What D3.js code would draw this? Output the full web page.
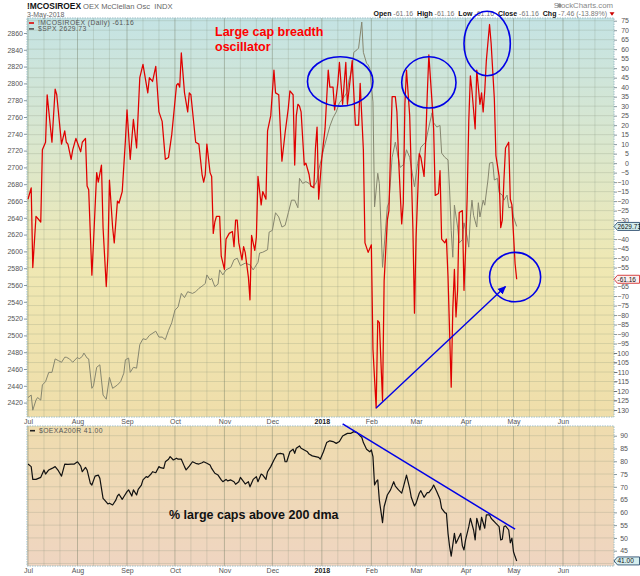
<!DOCTYPE html>
<html><head><meta charset="utf-8">
<script src="https://cdn.jsdelivr.net/npm/d3@7"></script>
<style>
html,body{margin:0;padding:0;background:#fff;}
svg{display:block;font-family:"Liberation Sans",Arial,sans-serif;}
</style></head><body>
<svg id="c" width="640" height="576"></svg>
<script>
// ---------- DATA ----------
const oscDates = [
"2017-07-01","2017-07-03","2017-07-04","2017-07-06","2017-07-09","2017-07-10","2017-07-12","2017-07-13","2017-07-16","2017-07-18","2017-07-19","2017-07-22","2017-07-24","2017-07-25","2017-07-26","2017-07-28","2017-07-29","2017-07-31",
"2017-08-03","2017-08-04","2017-08-06","2017-08-07","2017-08-08","2017-08-10","2017-08-11","2017-08-13","2017-08-14","2017-08-16","2017-08-17","2017-08-19","2017-08-20","2017-08-21","2017-08-23","2017-08-24","2017-08-26","2017-08-27","2017-08-29","2017-08-31",
"2017-09-01","2017-09-03","2017-09-05","2017-09-07","2017-09-09","2017-09-11","2017-09-14","2017-09-15","2017-09-17","2017-09-19","2017-09-21","2017-09-23","2017-09-25","2017-09-27","2017-09-29",
"2017-10-02","2017-10-03","2017-10-04","2017-10-05","2017-10-07","2017-10-09","2017-10-10","2017-10-11","2017-10-14","2017-10-16","2017-10-18","2017-10-19","2017-10-20","2017-10-21","2017-10-23","2017-10-24","2017-10-25","2017-10-26","2017-10-27","2017-10-29","2017-10-30",
"2017-11-01","2017-11-02","2017-11-04","2017-11-06","2017-11-07","2017-11-08","2017-11-09","2017-11-10","2017-11-12","2017-11-13","2017-11-14","2017-11-16","2017-11-17","2017-11-18","2017-11-20","2017-11-21","2017-11-22","2017-11-24","2017-11-25","2017-11-27","2017-11-28","2017-11-30",
"2017-12-02","2017-12-03","2017-12-05","2017-12-07","2017-12-09","2017-12-11","2017-12-12","2017-12-14","2017-12-15","2017-12-16","2017-12-17","2017-12-18","2017-12-19","2017-12-21","2017-12-22","2017-12-24","2017-12-25","2017-12-27","2017-12-28","2017-12-29","2017-12-30",
"2018-01-01","2018-01-03","2018-01-05","2018-01-06","2018-01-08","2018-01-09","2018-01-11","2018-01-12","2018-01-14","2018-01-16","2018-01-17","2018-01-19","2018-01-20","2018-01-22","2018-01-24","2018-01-25","2018-01-27","2018-01-28","2018-01-30",
"2018-02-01","2018-02-02","2018-02-04","2018-02-05","2018-02-06","2018-02-08","2018-02-09","2018-02-11","2018-02-12","2018-02-14","2018-02-16","2018-02-17","2018-02-18","2018-02-20","2018-02-21","2018-02-22","2018-02-23","2018-02-25","2018-02-27","2018-02-28",
"2018-03-01","2018-03-03","2018-03-04","2018-03-06","2018-03-07","2018-03-08","2018-03-09","2018-03-11","2018-03-12","2018-03-13","2018-03-15","2018-03-16","2018-03-17","2018-03-19","2018-03-20","2018-03-21","2018-03-23","2018-03-24","2018-03-25","2018-03-26","2018-03-27","2018-03-28","2018-03-30","2018-03-31",
"2018-04-01","2018-04-02","2018-04-03","2018-04-04","2018-04-05","2018-04-07","2018-04-08","2018-04-10","2018-04-11","2018-04-12","2018-04-13","2018-04-14","2018-04-16","2018-04-17","2018-04-19","2018-04-20","2018-04-22","2018-04-23","2018-04-24","2018-04-25","2018-04-26","2018-04-28","2018-04-29","2018-04-30",
"2018-05-02","2018-05-03"];
const oscValues = [
-19,-13,-55,-28,-31,7,11,36,11,39,36,10,17,11,10,2,7,13,
6,11,13,-12,-14,-59,-42,-5,-10,-1,-34,-65,-49,-9,-34,-42,-20,-21,-15,12,
28,2,23,8,45,52,37,45,43,51,27,22,2,3,15,
41,42,40,58,37,27,37,36,11,10,-6,-10,-6,10,-5,-7,-37,-31,-28,-28,-49,
-56,-40,-37,-36,-44,-30,-30,-42,-51,-44,-47,-60,-72,-38,-46,-39,-7,-22,-15,-19,17,25,
49,37,36,1,16,29,38,36,-1,25,31,30,27,-1,0,-6,-12,-13,8,19,-19,
3,18,49,40,40,28,42,53,31,53,31,46,54,20,20,42,7,-42,-47,
-43,-98,-129,-83,-84,-125,-62,-30,-25,35,35,27,3,-32,-21,31,49,25,-34,-79,
-39,5,3,-7,11,36,57,32,18,-17,-16,-4,-40,-42,-40,-60,-118,-77,-56,-81,-67,-26,-25,-67,
-46,-18,22,46,38,18,49,31,37,27,38,54,73,63,34,4,-7,-34,-30,-9,8,11,-19,-22,
-53,-61.16];

const spxDates = [
"2017-07-01","2017-07-03","2017-07-04","2017-07-06","2017-07-07","2017-07-09","2017-07-10","2017-07-12","2017-07-14","2017-07-16","2017-07-18","2017-07-20","2017-07-22","2017-07-24","2017-07-25","2017-07-27","2017-07-29",
"2017-08-01","2017-08-02","2017-08-04","2017-08-05","2017-08-07","2017-08-08","2017-08-10","2017-08-11","2017-08-13","2017-08-15","2017-08-17","2017-08-19","2017-08-21","2017-08-23","2017-08-26","2017-08-28","2017-08-30","2017-08-31",
"2017-09-02","2017-09-03","2017-09-05","2017-09-07","2017-09-09","2017-09-11","2017-09-13","2017-09-15","2017-09-19","2017-09-21","2017-09-23","2017-09-25","2017-09-27","2017-09-29",
"2017-10-01","2017-10-03","2017-10-05","2017-10-07","2017-10-09","2017-10-12","2017-10-14","2017-10-16","2017-10-19","2017-10-20","2017-10-21","2017-10-23","2017-10-24","2017-10-26","2017-10-28","2017-10-29","2017-10-31",
"2017-11-02","2017-11-05","2017-11-07","2017-11-09","2017-11-11","2017-11-14","2017-11-17","2017-11-19","2017-11-20","2017-11-22","2017-11-23","2017-11-25","2017-11-28","2017-11-29",
"2017-12-01","2017-12-03","2017-12-05","2017-12-07","2017-12-09","2017-12-11","2017-12-13","2017-12-15","2017-12-17","2017-12-18","2017-12-20","2017-12-22","2017-12-24","2017-12-26","2017-12-28","2017-12-29","2017-12-30",
"2018-01-01","2018-01-02","2018-01-04","2018-01-06","2018-01-08","2018-01-10","2018-01-12","2018-01-15","2018-01-17","2018-01-18","2018-01-20","2018-01-21","2018-01-23","2018-01-24","2018-01-26","2018-01-27","2018-01-29","2018-01-30","2018-01-31",
"2018-02-02","2018-02-03","2018-02-05","2018-02-06","2018-02-08","2018-02-11","2018-02-12","2018-02-14","2018-02-16","2018-02-19","2018-02-21","2018-02-23","2018-02-25","2018-02-28",
"2018-03-02","2018-03-04","2018-03-07","2018-03-09","2018-03-11","2018-03-12","2018-03-14","2018-03-16","2018-03-17","2018-03-19","2018-03-21","2018-03-22","2018-03-23","2018-03-24","2018-03-25","2018-03-27","2018-03-28","2018-03-30","2018-03-31",
"2018-04-02","2018-04-03","2018-04-04","2018-04-05","2018-04-06","2018-04-08","2018-04-09","2018-04-10","2018-04-12","2018-04-13","2018-04-15","2018-04-16","2018-04-18","2018-04-19","2018-04-21","2018-04-22","2018-04-24","2018-04-25","2018-04-27","2018-04-28","2018-04-30",
"2018-05-01","2018-05-03"];
const spxValues = [
2426,2429,2411,2423,2426,2423,2441,2445,2456,2456,2472,2470,2468,2474,2474,2472,2468,
2474,2472,2475,2479,2473,2472,2437,2440,2462,2465,2429,2424,2450,2437,2441,2445,2455,2471,
2473,2456,2462,2461,2489,2496,2495,2500,2505,2498,2498,2495,2506,2515,
2530,2534,2550,2545,2552,2550,2552,2556,2560,2562,2572,2566,2568,2558,2561,2578,2572,
2578,2581,2590,2592,2583,2586,2584,2578,2581,2587,2598,2599,2602,2623,
2625,2646,2641,2629,2631,2646,2661,2661,2652,2687,2681,2683,2681,2677,2680,2685,2697,
2712,2721,2735,2749,2759,2766,2777,2784,2790,2804,2818,2837,2840,2842,2873,2837,2824,2822,2818,
2778,2653,2693,2681,2581,2653,2658,2712,2730,2700,2703,2721,2712,2677,
2705,2724,2730,2748,2765,2753,2748,2750,2717,2712,2709,2673,2625,2593,2655,2629,2610,2614,2634,
2617,2605,2641,2661,2643,2629,2658,2641,2661,2655,2685,2705,2706,2685,2687,2670,2667,2661,2667,2652,2653,
2641,2629.73];

const pctDates = [
"2017-07-01","2017-07-03","2017-07-04","2017-07-06","2017-07-09","2017-07-11","2017-07-12","2017-07-14","2017-07-16","2017-07-18","2017-07-20","2017-07-22","2017-07-24","2017-07-26","2017-07-28","2017-07-30",
"2017-08-01","2017-08-03","2017-08-04","2017-08-06","2017-08-07","2017-08-09","2017-08-10","2017-08-12","2017-08-14","2017-08-15","2017-08-17","2017-08-18","2017-08-20","2017-08-21","2017-08-23","2017-08-25","2017-08-26","2017-08-27","2017-08-29","2017-08-30",
"2017-09-01","2017-09-02","2017-09-04","2017-09-05","2017-09-07","2017-09-08","2017-09-10","2017-09-11","2017-09-13","2017-09-14","2017-09-16","2017-09-17","2017-09-19","2017-09-21","2017-09-22","2017-09-24","2017-09-25","2017-09-27","2017-09-28","2017-09-30",
"2017-10-02","2017-10-03","2017-10-05","2017-10-07","2017-10-08","2017-10-10","2017-10-12","2017-10-14","2017-10-16","2017-10-18","2017-10-19","2017-10-21","2017-10-23","2017-10-24","2017-10-26","2017-10-28","2017-10-30","2017-10-31",
"2017-11-02","2017-11-03","2017-11-05","2017-11-07","2017-11-08","2017-11-10","2017-11-11","2017-11-13","2017-11-14","2017-11-16","2017-11-17","2017-11-19","2017-11-21","2017-11-22","2017-11-24","2017-11-25","2017-11-27","2017-11-28","2017-11-30",
"2017-12-02","2017-12-04","2017-12-06","2017-12-08","2017-12-09","2017-12-10","2017-12-12","2017-12-14","2017-12-15","2017-12-16","2017-12-18","2017-12-19","2017-12-21","2017-12-23","2017-12-24","2017-12-26","2017-12-28","2017-12-30","2017-12-31",
"2018-01-02","2018-01-04","2018-01-06","2018-01-08","2018-01-10","2018-01-12","2018-01-14","2018-01-17","2018-01-19","2018-01-21","2018-01-23","2018-01-25","2018-01-26","2018-01-27","2018-01-29","2018-01-31",
"2018-02-01","2018-02-02","2018-02-03","2018-02-04","2018-02-05","2018-02-06","2018-02-08","2018-02-09","2018-02-11","2018-02-13","2018-02-15","2018-02-16","2018-02-18","2018-02-20","2018-02-21","2018-02-23","2018-02-25","2018-02-26","2018-02-28",
"2018-03-01","2018-03-03","2018-03-04","2018-03-06","2018-03-08","2018-03-09","2018-03-11","2018-03-12","2018-03-14","2018-03-16","2018-03-17","2018-03-19","2018-03-20","2018-03-21","2018-03-22","2018-03-23","2018-03-25","2018-03-26","2018-03-27","2018-03-29","2018-03-30","2018-03-31",
"2018-04-01","2018-04-03","2018-04-04","2018-04-06","2018-04-07","2018-04-08","2018-04-10","2018-04-11","2018-04-13","2018-04-14","2018-04-16","2018-04-17","2018-04-18","2018-04-20","2018-04-22","2018-04-23","2018-04-24","2018-04-25","2018-04-26","2018-04-28","2018-04-29","2018-04-30",
"2018-05-01","2018-05-02","2018-05-03"];
const pctValues = [
78.9,77.9,72.9,72.9,73.7,76.6,75,76.6,77.2,77.9,76.3,74.2,78.9,78.8,78.9,78.9,
79.8,78.1,75.9,77.6,76.6,71.4,70.7,74.2,74.6,73.3,65.5,64.8,63.3,63.6,62.9,64.8,66.4,67.1,65.1,66.1,
68.1,68.8,66.4,68.8,66.8,69,70.7,72.7,74,73.7,75,75.9,75.5,77.9,77.5,77.2,79.8,80.8,81.8,80.5,
81.2,80.8,80.8,77.9,76.6,78.1,79.8,79.2,78.9,79.4,79.8,79.2,78.5,77.2,75.3,74.6,72.7,72,
72.9,72.3,72.7,72,71,72,73.7,72,71.1,72,70,72.9,74,72,75,74.6,72.9,75.9,77.9,
80.5,82.8,83.1,82.8,79.8,79.8,83.7,84.7,83.1,85.1,86,85.1,84.4,83.7,82.8,82.1,81.8,81.5,80.8,
83.7,87.3,88,87.7,87,87.7,89.9,90.9,90.9,91.6,91.2,89.9,89.4,87.3,84.7,83.7,
84.4,81.8,70.7,72,72.7,64.8,56,62.2,66.8,68.8,72,70.3,68.8,67.5,69.8,74.6,69.4,65.9,62.5,
63.6,67.5,68.5,65.9,67.7,67.7,69.4,70.7,68.1,65.1,61.6,59.9,59.6,51.8,46.6,42.9,51.8,47.9,49.2,51.8,46.9,45.3,
49.2,54.4,57.7,53.1,49.2,57.7,53.1,58.1,53.8,59,59,57.7,57,55.7,54.4,49.2,49.5,54.4,54.7,53.1,48.1,49.9,
44.6,42.7,41];

const monthLabels = ["Jul","Aug","Sep","Oct","Nov","Dec","2018","Feb","Mar","Apr","May","Jun"];
const spxTicks = d3.range(2420, 2861, 20);
const oscTicks = d3.range(-130, 76, 5);
const pctTicks = d3.range(45, 91, 5);

// hand-drawn annotations, in data units
const ellipseNotes = [
  {start:"2017-12-23", end:"2018-02-02", top:56, bottom:30},
  {start:"2018-02-20", end:"2018-03-26", top:56, bottom:29},
  {start:"2018-03-31", end:"2018-04-29", top:80, bottom:46},
  {start:"2018-04-16", end:"2018-05-18", top:-47, bottom:-73}
];
const arrowNote = {from:["2018-02-04",-129], to:["2018-04-26",-65]};
const trendNote = {from:["2018-01-14",94.6], to:["2018-05-02",53.4]};

// ---------- DRAWING ----------
const parse = d3.utcParse("%Y-%m-%d");
const svg = d3.select("#c");
const defs = svg.append("defs");
const P1 = {l:27, r:614, t:18, b:417};
const P2 = {l:27, r:614, t:426, b:566};

const x = d3.scaleUtc().domain([new Date(Date.UTC(2017,6,1)), new Date(Date.UTC(2018,5,1))]).range([28,563]);
const yOsc = d3.scaleLinear().domain([-130,75]).range([410,20.7]);
const ySpx = d3.scaleLinear().domain([2420,2860]).range([402.6,33]);
const yPct = d3.scaleLinear().domain([45,90]).range([550.7,435.7]);

function grad(id, stops){
  const g = defs.append("linearGradient").attr("id",id).attr("x1",0).attr("y1",0).attr("x2",0).attr("y2",1);
  stops.forEach(([o,c]) => g.append("stop").attr("offset",o).attr("stop-color",c));
}
grad("g1", [[0,"#c4e3e4"],[0.3,"#d9e7cf"],[0.62,"#efe8b3"],[1,"#efdeaa"]]);
grad("g2", [[0,"#efdcae"],[1,"#efd5c1"]]);
[["clip1",P1],["clip2",P2]].forEach(([id,P]) => defs.append("clipPath").attr("id",id)
  .append("rect").attr("x",P.l).attr("y",P.t).attr("width",P.r-P.l).attr("height",P.b-P.t));

defs.append("marker").attr("id","ah").attr("viewBox","0 0 10 10").attr("refX",9).attr("refY",5)
  .attr("markerWidth",6).attr("markerHeight",6).attr("markerUnits","strokeWidth").attr("orient","auto")
  .append("path").attr("d","M0,0.5 L10,5 L0,9.5 Z").attr("fill","#0000e6");

svg.append("rect").attr("x",P1.l).attr("y",P1.t).attr("width",P1.r-P1.l).attr("height",P1.b-P1.t).attr("fill","url(#g1)");
svg.append("rect").attr("x",P2.l).attr("y",P2.t).attr("width",P2.r-P2.l).attr("height",P2.b-P2.t).attr("fill","url(#g2)");

const monthStarts = d3.utcMonth.range(new Date(Date.UTC(2017,6,1)), new Date(Date.UTC(2018,6,1)));
const minorDays = monthStarts.flatMap(m => [11,21].map(dd => new Date(Date.UTC(m.getUTCFullYear(), m.getUTCMonth(), dd))));

function vgrid(P){
  const g = svg.append("g");
  g.selectAll(".mn").data(minorDays).join("line")
    .attr("x1",d=>x(d)).attr("x2",d=>x(d)).attr("y1",P.t).attr("y2",P.b)
    .attr("stroke","#7d8a70").attr("stroke-opacity",0.22).attr("stroke-width",1);
  g.selectAll(".mj").data(monthStarts).join("line")
    .attr("x1",d=>x(d)).attr("x2",d=>x(d)).attr("y1",P.t).attr("y2",P.b)
    .attr("stroke","#6f7a62").attr("stroke-opacity",0.42).attr("stroke-width",1);
}
vgrid(P1); vgrid(P2);
svg.append("g").selectAll("line").data(oscTicks).join("line")
  .attr("x1",P1.l).attr("x2",P1.r).attr("y1",d=>yOsc(d)).attr("y2",d=>yOsc(d))
  .attr("stroke","#7d8a70").attr("stroke-opacity",0.22);
svg.append("g").selectAll("line").data([40].concat(pctTicks)).join("line")
  .attr("x1",P2.l).attr("x2",P2.r).attr("y1",d=>yPct(d)).attr("y2",d=>yPct(d))
  .attr("stroke","#7d8a70").attr("stroke-opacity",0.22);

// series
const osc = oscDates.map((d,i)=>({date:parse(d), v:oscValues[i]}));
const spx = spxDates.map((d,i)=>({date:parse(d), v:spxValues[i]}));
const pct = pctDates.map((d,i)=>({date:parse(d), v:pctValues[i]}));

svg.append("path").datum(spx).attr("clip-path","url(#clip1)")
  .attr("d", d3.line().x(d=>x(d.date)).y(d=>ySpx(d.v)))
  .attr("fill","none").attr("stroke","#86866f").attr("stroke-width",1);
svg.append("path").datum(osc).attr("clip-path","url(#clip1)")
  .attr("d", d3.line().x(d=>x(d.date)).y(d=>yOsc(d.v)))
  .attr("fill","none").attr("stroke","#e00000").attr("stroke-width",1.25).attr("stroke-linejoin","round");
svg.append("path").datum(pct).attr("clip-path","url(#clip2)")
  .attr("d", d3.line().x(d=>x(d.date)).y(d=>yPct(d.v)))
  .attr("fill","none").attr("stroke","#111").attr("stroke-width",1.2).attr("stroke-linejoin","round");

// panel borders
[P1,P2].forEach(P => svg.append("rect").attr("x",P.l).attr("y",P.t).attr("width",P.r-P.l).attr("height",P.b-P.t)
  .attr("fill","none").attr("stroke","#9dbfc8").attr("stroke-width",1).attr("stroke-dasharray","1.5,1"));

// last-value tag positions (labels hidden beneath them, as in the reference)
const tagSpx = ySpx(spxValues[spxValues.length-1]);
const tagOsc = yOsc(oscValues[oscValues.length-1]);
const tagPct = yPct(pctValues[pctValues.length-1]);

// axes
function styleAxis(g){
  g.select(".domain").remove();
  g.selectAll("line").attr("stroke","#8a9aa0");
  g.selectAll("text").attr("fill","#555").style("font-size","7px").style("font-family","'Liberation Sans',Arial,sans-serif");
}
svg.append("g").attr("transform",`translate(${P1.l},0)`)
  .call(d3.axisLeft(ySpx).tickValues(spxTicks).tickSize(3).tickPadding(1).tickFormat(d3.format("d")))
  .call(styleAxis);
const oscVisible = oscTicks.filter(v => Math.abs(yOsc(v)-tagSpx) > 5 && Math.abs(yOsc(v)-tagOsc) > 5);
svg.append("g").attr("transform",`translate(${P1.r},0)`)
  .call(d3.axisRight(yOsc).tickValues(oscVisible).tickSize(3).tickFormat(d3.format("d")))
  .call(styleAxis)
  .call(g => g.selectAll("text").attr("text-anchor","end").attr("x",15));
svg.append("g").attr("transform",`translate(${P2.r},0)`)
  .call(d3.axisRight(yPct).tickValues(pctTicks).tickSize(3).tickFormat(d3.format("d")))
  .call(styleAxis)
  .call(g => g.selectAll("text").attr("text-anchor","end").attr("x",14));
[P1.b, P2.b].forEach(yy => {
  svg.append("g").attr("transform",`translate(0,${yy})`)
    .call(d3.axisBottom(x).tickValues(monthStarts).tickSize(0).tickPadding(2).tickFormat((d,i)=>monthLabels[i]))
    .call(styleAxis)
    .call(g => g.selectAll("text").filter((d,i)=>monthLabels[i]==="2018").attr("fill","#222").style("font-weight","bold"));
});

function tag(yy, label, fill, stroke){
  const g = svg.append("g");
  g.append("path").attr("d",`M${P1.r},${yy} L${P1.r+3.5},${yy-4} L639.5,${yy-4} L639.5,${yy+4} L${P1.r+3.5},${yy+4} Z`)
    .attr("fill",fill).attr("stroke",stroke).attr("stroke-width",0.9);
  g.append("text").attr("x",617.5).attr("y",yy+2.4).text(label).attr("fill","#111").style("font-size","6.5px");
}
tag(tagSpx, "2629.73", "#d5eeee", "#2d4e6e");
tag(tagOsc, "-61.16", "#fbefef", "#d23030");
tag(tagPct, "41.00", "#d5eeee", "#2d4e6e");

// legends
function legend(x0, y0, color, label){
  svg.append("line").attr("x1",x0).attr("x2",x0+5).attr("y1",y0-2.3).attr("y2",y0-2.3).attr("stroke",color).attr("stroke-width",1.6);
  svg.append("text").attr("x",x0+9).attr("y",y0).text(label).attr("fill","#555").style("font-size","6.8px").style("letter-spacing","0.4px");
}
legend(29, 25.3, "#e00000", "!MCOSIROEX (Daily) -61.16");
legend(29, 31.2, "#555", "$SPX 2629.73");
legend(30, 433, "#222", "$OEXA200R 41.00");

// header
svg.append("text").attr("x",27).attr("y",8.5).style("font-size","8.4px").style("font-weight","bold").attr("fill","#111").text("!MCOSIROEX");
svg.append("text").attr("x",83).attr("y",8.5).style("font-size","7.6px").attr("fill","#666").text("OEX McClellan Osc  INDX").style("white-space","pre");
svg.append("text").attr("x",27).attr("y",16.5).style("font-size","7px").attr("fill","#666").text("3-May-2018");
svg.append("circle").attr("cx",559.5).attr("cy",5.5).attr("r",2.1).attr("fill","#999");
svg.append("text").attr("x",613).attr("y",8).attr("text-anchor","end").style("font-size","7.8px").attr("fill","#888").text("StockCharts.com");
const hdrParts = [["Open",1],[" -61.16  ",0],["High",1],[" -61.16  ",0],["Low",1],[" -61.16  ",0],["Close",1],[" -61.16  ",0],["Chg",1],[" -7.46 (-13.89%)",0]];
const hdr = svg.append("text").attr("x",607).attr("y",16.3).attr("text-anchor","end").style("font-size","7px").style("white-space","pre");
hdrParts.forEach(([t,b]) => hdr.append("tspan").text(t).attr("fill", b ? "#111" : "#777").style("font-weight", b ? "bold" : "normal"));
svg.append("path").attr("d","M609.5,12.3 L614.5,12.3 L612,15.8 Z").attr("fill","#c00");

// annotation texts
svg.append("text").attr("x",215).attr("y",35.7).text("Large cap breadth").attr("fill","#ff0000").style("font-size","12.5px").style("font-weight","bold");
svg.append("text").attr("x",215).attr("y",50.5).text("oscillator").attr("fill","#ff0000").style("font-size","12.5px").style("font-weight","bold");
svg.append("text").attr("x",169).attr("y",519).text("% large caps above 200 dma").attr("fill","#111").style("font-size","12.5px").style("font-weight","bold");

// hand-drawn blue annotations
svg.append("g").selectAll("ellipse").data(ellipseNotes).join("ellipse")
  .attr("cx", d => (x(parse(d.start)) + x(parse(d.end)))/2)
  .attr("cy", d => (yOsc(d.top) + yOsc(d.bottom))/2)
  .attr("rx", d => (x(parse(d.end)) - x(parse(d.start)))/2)
  .attr("ry", d => (yOsc(d.bottom) - yOsc(d.top))/2)
  .attr("fill","none").attr("stroke","#0000e6").attr("stroke-width",1.6);
svg.append("line")
  .attr("x1", x(parse(arrowNote.from[0]))).attr("y1", yOsc(arrowNote.from[1]))
  .attr("x2", x(parse(arrowNote.to[0]))).attr("y2", yOsc(arrowNote.to[1]))
  .attr("stroke","#0000e6").attr("stroke-width",1.4).attr("marker-end","url(#ah)");
svg.append("line")
  .attr("x1", x(parse(trendNote.from[0]))).attr("y1", yPct(trendNote.from[1]))
  .attr("x2", x(parse(trendNote.to[0]))).attr("y2", yPct(trendNote.to[1]))
  .attr("stroke","#0000e6").attr("stroke-width",1.5);
</script>
</body></html>
